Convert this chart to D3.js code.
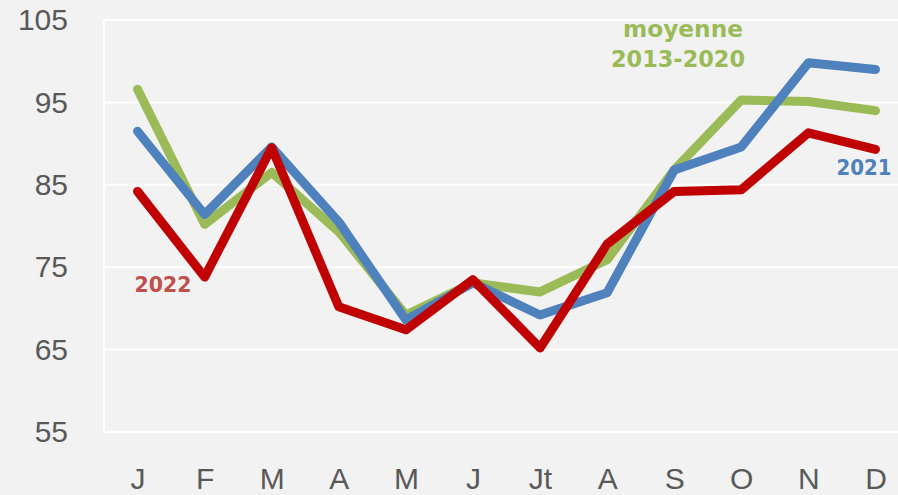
<!DOCTYPE html>
<html>
<head>
<meta charset="utf-8">
<script src="https://cdn.jsdelivr.net/npm/d3@7"></script>
<style>
  html, body { margin: 0; padding: 0; background: #f2f2f2; }
  svg { display: block; }
</style>
</head>
<body>
<svg id="chart" width="898" height="495"></svg>
<script>
// Monthly index values
const months = ["J", "F", "M", "A", "M", "J", "Jt", "A", "S", "O", "N", "D"];
const moyenne = [96.6, 80.2, 86.5, 79.3, 69.2, 73.1, 72.0, 75.9, 86.8, 95.3, 95.1, 94.0];
const y2021   = [91.5, 81.4, 89.6, 80.5, 68.6, 73.1, 69.2, 71.9, 86.8, 89.6, 99.8, 99.0];
const y2022   = [84.2, 73.8, 89.5, 70.2, 67.4, 73.5, 65.2, 77.8, 84.2, 84.4, 91.3, 89.3];
const yTicks  = [55, 65, 75, 85, 95, 105];

const svg = d3.select("#chart");
const W = 898, H = 495;
const plotLeft = 104, plotRight = 909, plotTop = 20, plotBottom = 432;
const tickFont = "'Liberation Sans', Arial, sans-serif";

svg.append("rect").attr("width", W).attr("height", H).attr("fill", "#f2f2f2");

const x = d3.scaleBand().domain(d3.range(months.length)).range([plotLeft, plotRight]);
const xc = i => x(i) + x.bandwidth() / 2;
const y = d3.scaleLinear().domain([55, 105]).range([plotBottom, plotTop]);

// Horizontal gridlines
svg.append("g")
  .selectAll("line")
  .data(yTicks)
  .join("line")
  .attr("x1", plotLeft).attr("x2", plotRight)
  .attr("y1", d => y(d)).attr("y2", d => y(d))
  .attr("stroke", "#ffffff").attr("stroke-width", 2);

// Left axis line
svg.append("line")
  .attr("x1", plotLeft).attr("x2", plotLeft)
  .attr("y1", y(105)).attr("y2", y(55))
  .attr("stroke", "#ffffff").attr("stroke-width", 2);

// Y axis labels
const yAxis = d3.axisLeft(y).tickValues(yTicks).tickSize(0).tickPadding(36);
const gy = svg.append("g").attr("transform", `translate(${plotLeft},0)`).call(yAxis);
gy.select(".domain").remove();
gy.selectAll("text")
  .attr("font-family", tickFont)
  .attr("font-size", 30)
  .attr("fill", "#595959");

// X axis labels
const xAxis = d3.axisBottom(d3.scalePoint().domain(d3.range(months.length)).range([xc(0), xc(11)]))
  .tickFormat(i => months[i]).tickSize(0).tickPadding(0);
const gx = svg.append("g").attr("transform", `translate(0,${plotBottom})`).call(xAxis);
gx.select(".domain").remove();
gx.selectAll("text")
  .attr("y", 0)
  .attr("dy", null)
  .attr("transform", "translate(0,57)")
  .attr("font-family", tickFont)
  .attr("font-size", 30)
  .attr("fill", "#595959");

// Series lines
const line = d3.line().x((d, i) => xc(i)).y(d => y(d));
const series = [
  { values: moyenne, color: "#9bbb59" },
  { values: y2021,   color: "#4f81bd" },
  { values: y2022,   color: "#c00000" }
];
svg.append("g")
  .selectAll("path")
  .data(series)
  .join("path")
  .attr("d", d => line(d.values))
  .attr("fill", "none")
  .attr("stroke", d => d.color)
  .attr("stroke-width", 9)
  .attr("stroke-linejoin", "round")
  .attr("stroke-linecap", "round");

// Series labels
const labelFont = "'DejaVu Sans', Verdana, sans-serif";
const labels = [
  { text: "moyenne",   x: 683, y: 37,  color: "#9bbb59", len: 120, size: 23 },
  { text: "2013-2020", x: 678, y: 67,  color: "#9bbb59", len: 134, size: 23 },
  { text: "2021",      x: 864, y: 175, color: "#4f81bd", len: 55,  size: 21 },
  { text: "2022",      x: 163, y: 292, color: "#c0504d", len: 57,  size: 22 }
];
svg.append("g")
  .selectAll("text")
  .data(labels)
  .join("text")
  .attr("x", d => d.x - d.len / 2)
  .attr("y", d => d.y)
  .attr("textLength", d => d.len)
  .attr("lengthAdjust", "spacingAndGlyphs")
  .attr("font-family", labelFont)
  .attr("font-weight", "bold")
  .attr("font-size", d => d.size)
  .attr("fill", d => d.color)
  .text(d => d.text);
</script>
</body>
</html>
